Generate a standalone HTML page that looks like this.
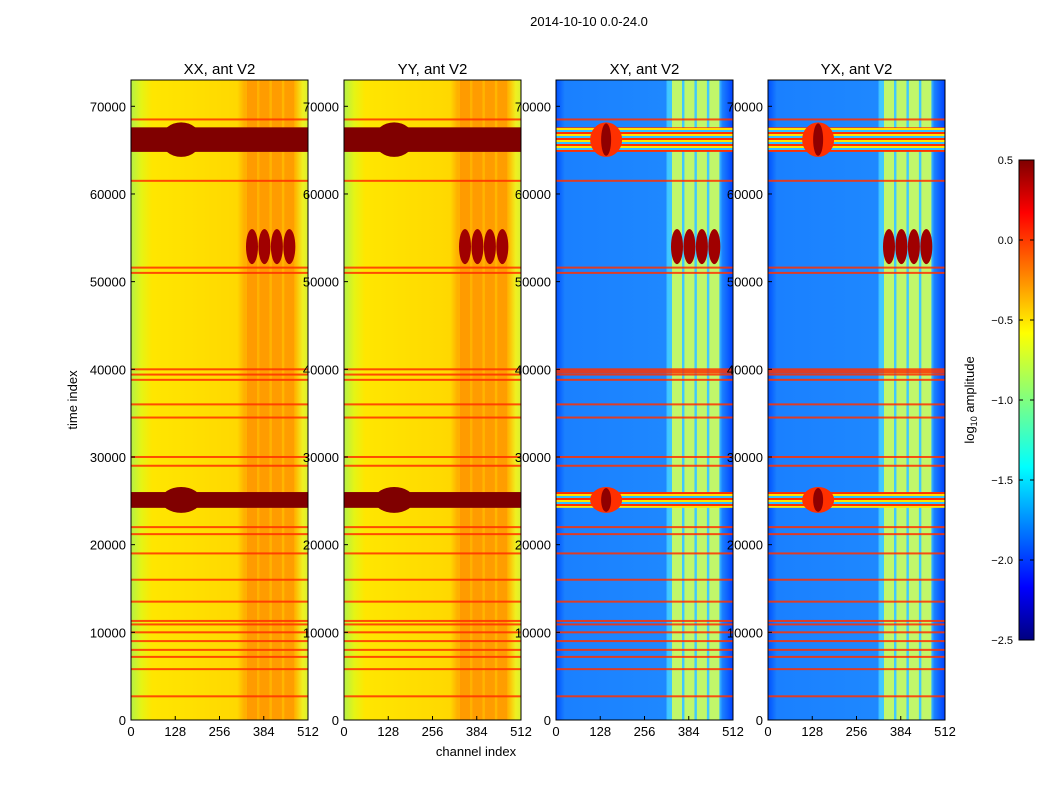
<!DOCTYPE html>
<html><head><meta charset="utf-8"><style>
body{margin:0;background:#fff;}
svg{display:block;font-family:"Liberation Sans","DejaVu Sans",sans-serif;}
</style></head><body>
<svg id="fig" width="1050" height="800" viewBox="0 0 1050 800">
<defs>
<linearGradient id="gAuto" x1="0" x2="1" y1="0" y2="0">
<stop offset="0" stop-color="#b4f046"/><stop offset="0.06" stop-color="#e6f414"/><stop offset="0.12" stop-color="#ffe600"/><stop offset="0.6" stop-color="#ffd800"/><stop offset="0.64" stop-color="#ffb000"/><stop offset="0.93" stop-color="#ffb800"/><stop offset="0.97" stop-color="#f0f020"/><stop offset="1" stop-color="#d8f030"/>
</linearGradient>
<linearGradient id="gCross" x1="0" x2="1" y1="0" y2="0">
<stop offset="0" stop-color="#0050ff"/><stop offset="0.05" stop-color="#1a80ff"/><stop offset="0.62" stop-color="#1e88ff"/><stop offset="0.63" stop-color="#40c8ff"/><stop offset="0.92" stop-color="#40c8ff"/><stop offset="0.94" stop-color="#1a80ff"/><stop offset="1" stop-color="#0040ff"/>
</linearGradient>
<linearGradient id="gJet" x1="0" x2="0" y1="1" y2="0">
<stop offset="0" stop-color="#00007f"/><stop offset="0.11" stop-color="#0000ff"/><stop offset="0.36" stop-color="#00ffff"/><stop offset="0.5" stop-color="#80ff80"/><stop offset="0.64" stop-color="#ffff00"/><stop offset="0.89" stop-color="#ff0000"/><stop offset="1" stop-color="#7f0000"/>
</linearGradient>
<pattern id="pBand" width="8" height="6" patternUnits="userSpaceOnUse">
<rect width="8" height="6" fill="#30c0ff"/><rect y="0" width="8" height="2" fill="#ff3000"/><rect y="2" width="8" height="2" fill="#ffe000"/>
</pattern>
</defs>
<text x="589" y="26" font-size="13" text-anchor="middle">2014-10-10 0.0-24.0</text>
<g id="panels"></g>
<text x="476" y="756" font-size="13" text-anchor="middle">channel index</text>
<text transform="translate(77,400) rotate(-90)" font-size="13" text-anchor="middle">time index</text>
<g>
<rect x="1019" y="160" width="15" height="480" fill="url(#gJet)" stroke="#000" stroke-width="1"/>
<g id="cbticks"></g>
<text transform="translate(974,400) rotate(-90)" font-size="13" text-anchor="middle">log<tspan font-size="9" dy="3">10</tspan><tspan dy="-3"> amplitude</tspan></text>
</g>
</svg>
<script>
const panelTitles=["XX, ant V2","YY, ant V2","XY, ant V2","YX, ant V2"];
const panelLefts=[131,344,556,768];
const channelTicks=[0,128,256,384,512];
const timeTicks=[0,10000,20000,30000,40000,50000,60000,70000];
const stripeTimes=[2700,5800,7200,8000,9000,10000,10900,11300,13500,16000,19000,21200,22000,29000,30000,34500,36000,38800,39400,40000,51000,51600,61500,68500];
const darkBands=[[24200,26000],[64800,67600]];
const hotColumns=[350,386,422,458];
const hotRange=[52000,56000];
const cbTicks=[0.5,0,-0.5,-1.0,-1.5,-2.0,-2.5];
const NS="http://www.w3.org/2000/svg";
const W=177,plotTop=80,plotBot=720,tMax=73000;
const yS=t=>plotBot-(t/tMax)*(plotBot-plotTop);
function mk(tag,at,parent){const e=document.createElementNS(NS,tag);for(const k in at)e.setAttribute(k,at[k]);parent.appendChild(e);return e;}
const panels=document.getElementById('panels');
panelTitles.forEach((title,i)=>{
  const L=panelLefts[i];const xS=c=>L+c/512*W;const cross=i>=2;
  const g=mk('g',{},panels);
  
  
  mk('rect',{x:L,y:plotTop,width:W,height:plotBot-plotTop,fill:cross?'url(#gCross)':'url(#gAuto)'},g);
  hotColumns.forEach(c=>{
    const r=mk('rect',{x:xS(c)-5,y:plotTop,width:10,height:plotBot-plotTop,fill:cross?'#d8ff50':'#ff8c00',opacity:cross?0.85:0.6},g);
    
    
  });
  stripeTimes.forEach(t=>{
    const r=mk('rect',{x:L,y:yS(t)-1,width:W,height:t===40000&&cross?5:2,fill:'#ff3000',opacity:0.85},g);
    
    
  });
  darkBands.forEach(b=>{
    const y1=yS(b[1]),y0=yS(b[0]);
    const r=mk('rect',{x:L,y:y1,width:W,height:y0-y1,fill:cross?'url(#pBand)':'#800000'},g);
    
    
    const e=mk('ellipse',{cx:xS(145),cy:(y0+y1)/2,rx:cross?16:20,ry:(y0-y1)/2+5,fill:cross?'#ff3000':'#800000'},g);
    
    
    if(cross){
      const c2=mk('ellipse',{cx:xS(145),cy:(y0+y1)/2,rx:5,ry:(y0-y1)/2+4,fill:'#900000'},g);
      
      
    }
  });
  hotColumns.forEach(c=>{
    const e=mk('ellipse',{cx:xS(c),cy:(yS(hotRange[0])+yS(hotRange[1]))/2,rx:6,ry:(yS(hotRange[0])-yS(hotRange[1]))/2,fill:'#a00000'},g);
    
    
  });
  mk('rect',{x:L,y:plotTop,width:W,height:plotBot-plotTop,fill:'none',stroke:'#000','stroke-width':1},g);
  const tt=mk('text',{x:L+W/2,y:74,'font-size':15,'text-anchor':'middle'},g);tt.textContent=title;
  
  
  channelTicks.forEach(c=>{
    mk('line',{x1:xS(c),x2:xS(c),y1:plotBot,y2:plotBot-4,stroke:'#000'},g);
    const tx=mk('text',{x:xS(c),y:plotBot+16,'font-size':13,'text-anchor':'middle'},g);tx.textContent=c;
    
    
  });
  timeTicks.forEach(t=>{
    mk('line',{x1:L,x2:L+4,y1:yS(t),y2:yS(t),stroke:'#000'},g);
    const tx=mk('text',{x:L-5,y:yS(t)+5,'font-size':13,'text-anchor':'end'},g);tx.textContent=t;
    
    
  });
});
const cb=document.getElementById('cbticks');
cbTicks.forEach(v=>{
  const y=160+(0.5-v)/3*480;
  mk('line',{x1:1019,x2:1023,y1:y,y2:y,stroke:'#000'},cb);
  mk('line',{x1:1030,x2:1034,y1:y,y2:y,stroke:'#000'},cb);
  const tx=mk('text',{x:1013,y:y+4,'font-size':11,'text-anchor':'end'},cb);tx.textContent=(v<0?'\u2212':'')+Math.abs(v).toFixed(1);
  
  
});
</script>
</body></html>
